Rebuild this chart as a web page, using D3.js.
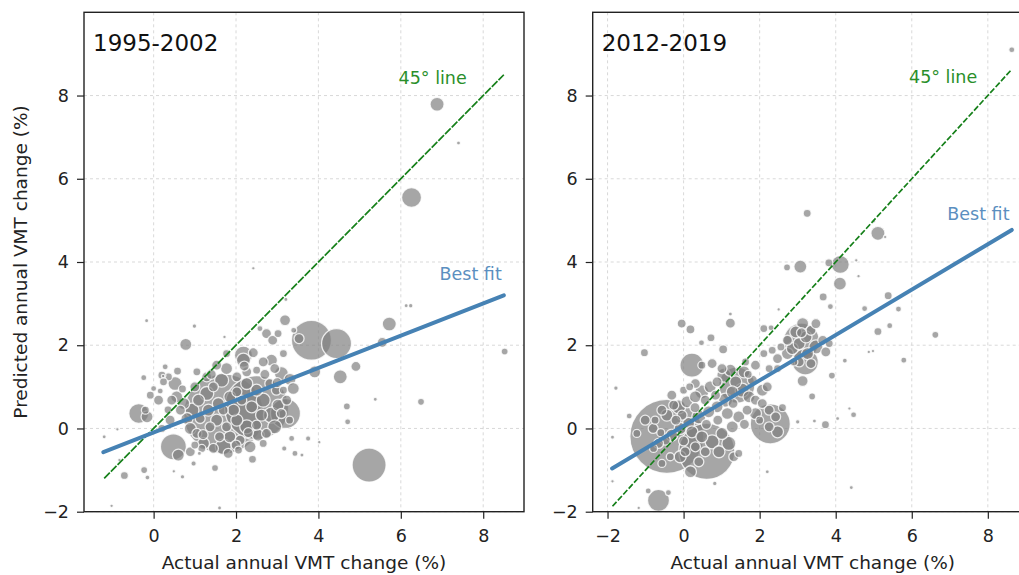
<!DOCTYPE html>
<html>
<head>
<script src="https://d3js.org/d3.v7.min.js"></script>
<style>
  body { margin: 0; background: #fff; }
  text { font-family: "DejaVu Sans", sans-serif; }
  .grid line { stroke: #cfcfcf; stroke-dasharray: 3,3; stroke-width: 0.8; }
  .axis path { display: none; }
  .axis line { stroke: #222; stroke-width: 1.2; }
  .axis text { font-size: 17.5px; fill: #222; font-family: "DejaVu Sans", sans-serif; }
  .dot { fill: #808080; fill-opacity: 0.7; stroke: #fff; stroke-opacity: 0.8; stroke-width: 1.3; }
</style>
</head>
<body>
<script>
var width = 1019, height = 575;

var titles = ["1995-2002", "2012-2019"];
var xTicksLeft = [0, 2, 4, 6, 8];
var xTicksRight = [-2, 0, 2, 4, 6, 8];
var yTicks = [-2, 0, 2, 4, 6, 8];

// [actual change, predicted change, weight]
var leftPoints = [
  [1.7, 0.35, 1600], [2.5, 0.5, 1024], [3.83, 2.12, 400], [4.44, 2.04, 225], [5.23, -0.88, 289],
  [3.2, 0.36, 225], [0.48, -0.44, 169], [-0.36, 0.36, 100], [2.18, 1.76, 81], [6.26, 5.55, 100],
  [6.88, 7.79, 49], [5.72, 2.51, 49], [0.78, 2.02, 36], [3.19, 2.6, 30], [4.53, 1.24, 49],
  [4.91, 1.49, 25], [3.91, 1.36, 36], [3.53, 2.16, 25], [5.55, 2.07, 25],
  [-0.71, -1.13, 16], [-0.23, -1.0, 12], [-0.15, -1.18, 6], [1.49, -0.95, 12], [2.4, -0.74, 16],
  [4.69, 0.53, 12], [4.71, 0.16, 9], [5.38, 0.7, 4], [3.35, -0.24, 9], [3.17, -0.48, 7],
  [3.43, -0.6, 9], [3.6, -0.64, 4], [3.75, -0.24, 7], [4.02, -0.33, 3], [0.99, 2.46, 5],
  [-0.17, 2.59, 4], [1.72, 2.2, 3], [-0.24, 1.22, 9], [-1.2, -0.2, 4], [-0.88, -0.02, 3],
  [-1.02, -1.86, 3], [1.6, -1.91, 4], [0.7, -1.16, 5], [0.49, -1.03, 3], [0.97, -0.84, 7],
  [1.11, -0.6, 4], [-0.83, -0.76, 3], [6.13, 2.95, 4], [6.24, 2.95, 5], [7.4, 6.86, 4],
  [8.52, 1.85, 12], [6.49, 0.64, 12], [2.42, 3.85, 3], [3.21, 3.1, 4], [0.23, 1.26, 3],
  [2.18, 1.64, 49], [2.42, 1.82, 25], [2.66, 1.60, 25], [2.86, 1.64, 36], [2.94, 1.44, 25],
  [3.10, 1.32, 49], [3.31, 1.18, 36], [3.39, 0.96, 36], [3.23, 0.68, 25], [3.02, 0.56, 36],
  [2.86, 0.32, 64], [3.10, 0.36, 25], [2.66, 0.68, 49], [2.50, 0.92, 36], [2.26, 1.08, 36],
  [2.02, 1.24, 25], [1.77, 1.44, 36], [1.65, 1.16, 49], [1.45, 1.00, 25], [1.29, 0.84, 49],
  [1.09, 0.68, 36], [0.93, 0.44, 49], [0.81, 0.24, 36], [0.89, 0.00, 36], [1.05, -0.12, 25],
  [1.21, -0.36, 36], [1.45, -0.48, 25], [1.69, -0.44, 64], [1.85, -0.20, 36], [2.10, -0.28, 25],
  [2.34, -0.44, 36], [2.54, -0.16, 36], [2.74, -0.12, 25], [2.94, 0.04, 49], [2.26, 0.04, 49],
  [2.02, 0.20, 36], [1.77, 0.04, 25], [1.53, 0.20, 36], [1.33, 0.44, 36], [1.57, 0.60, 36],
  [1.85, 0.76, 36], [2.14, 0.68, 25], [2.38, 0.52, 36], [2.62, 0.32, 36], [2.50, 0.08, 25],
  [1.94, 0.44, 36], [1.69, 0.44, 25], [1.37, 0.04, 25], [1.13, 0.24, 25], [0.73, 0.60, 36],
  [0.56, 0.76, 36], [0.52, 1.08, 49], [0.36, 1.24, 16], [0.20, 1.28, 16], [0.24, 1.12, 16],
  [0.58, 1.38, 16], [0.44, 0.68, 25], [0.65, 0.44, 25], [0.60, -0.64, 36], [0.89, -0.56, 25],
  [1.17, -0.48, 16], [1.81, -0.60, 25], [2.06, -0.52, 16], [2.66, -0.36, 16], [-0.16, 0.28, 36],
  [-0.20, 0.44, 16], [-0.08, 0.80, 16], [0.12, 0.68, 25], [0.00, 0.96, 9], [0.16, 0.90, 9],
  [0.28, 1.48, 9], [1.77, 1.80, 16], [1.53, 1.52, 25], [1.29, 1.24, 25], [1.05, 1.36, 16],
  [2.74, 2.28, 25], [3.02, 2.28, 16], [2.58, 2.40, 9], [2.89, 2.12, 25], [3.15, 1.80, 16],
  [3.40, 2.36, 9], [2.50, 1.40, 16], [2.26, 1.36, 25], [2.02, 0.88, 25], [2.82, 1.08, 25],
  [2.98, 0.92, 25], [3.15, 0.92, 16],
  [0.4, 0.2, 25], [0.2, 0.0, 16], [1.0, 1.0, 25], [1.4, 1.3, 25], [2.3, -0.1, 25],
  [2.7, 1.3, 25], [3.0, 1.1, 25], [1.2, -0.15, 25], [1.6, -0.2, 25], [2.0, -0.4, 25],
  [0.7, 0.95, 16], [3.3, 0.2, 16], [2.2, 1.5, 25], [1.0, -0.4, 16], [0.35, 0.45, 16]
];

var rightPoints = [
  [-0.44, -0.19, 1369], [0.61, -0.55, 784], [1.4, 1.04, 324], [0.22, 1.52, 144], [2.28, 0.11, 400],
  [3.1, 2.1, 324], [3.2, 1.6, 169], [-0.66, -1.73, 121], [-0.93, -1.5, 9], [-0.4, -1.54, 9],
  [3.73, 0.09, 16], [3.13, 1.14, 30], [-1.03, 1.82, 16], [-0.05, 2.52, 20], [0.18, 2.38, 20],
  [1.23, 2.53, 25], [1.23, 2.75, 4], [1.04, 1.9, 20], [0.72, 2.18, 16], [0.47, 2.06, 9],
  [2.11, 2.4, 16], [2.3, 2.42, 9], [5.11, 2.33, 16], [5.42, 2.47, 9], [5.65, 2.87, 9],
  [5.79, 1.64, 9], [4.24, 1.63, 6], [3.9, 1.27, 12], [3.38, 0.77, 12], [3.0, 0.16, 5],
  [3.44, 0.18, 4], [4.05, 0.24, 4], [4.47, 0.33, 9], [4.36, 0.48, 3], [4.41, -1.42, 4],
  [2.2, -1.04, 4], [0.82, -1.32, 5], [-1.87, -1.27, 3], [-1.78, 0.97, 5], [-1.43, 0.3, 9],
  [-1.87, -0.21, 4], [-1.18, -1.91, 3], [4.87, 1.84, 3], [4.98, 1.86, 3], [3.25, 5.17, 16],
  [5.11, 4.69, 49], [5.3, 4.6, 3], [5.0, 4.98, 3], [4.12, 3.94, 81], [3.07, 3.89, 42],
  [2.72, 3.87, 12], [3.82, 3.98, 16], [4.11, 3.48, 42], [3.67, 3.16, 16], [3.86, 2.93, 9],
  [5.38, 3.19, 16], [4.76, 2.88, 9], [4.6, 3.66, 3], [4.54, 4.04, 3], [6.62, 2.25, 12],
  [8.63, 9.1, 9], [2.5, 2.86, 3],
  [-0.13, 0.52, 49], [0.09, 0.64, 36], [0.31, 0.76, 36], [0.48, 0.88, 49], [0.70, 1.00, 36],
  [0.88, 1.12, 25], [1.06, 1.28, 49], [1.23, 1.40, 36], [1.37, 1.12, 36], [1.54, 0.92, 49],
  [1.72, 0.76, 36], [1.89, 0.68, 25], [2.07, 0.92, 36], [2.20, 1.00, 25], [1.81, 1.16, 25],
  [1.59, 1.36, 36], [1.28, 0.88, 36], [1.10, 0.68, 49], [0.88, 0.52, 36], [0.66, 0.40, 36],
  [0.40, 0.28, 49], [0.13, 0.12, 36], [-0.09, 0.00, 36], [-0.31, -0.16, 36], [-0.48, -0.28, 25],
  [-0.66, -0.36, 25], [-0.79, -0.48, 16], [-0.44, 0.32, 36], [-0.26, 0.56, 25], [-0.04, 0.32, 25],
  [0.22, -0.08, 36], [0.48, -0.20, 36], [0.75, -0.32, 49], [1.01, -0.12, 36], [1.28, 0.04, 36],
  [1.45, 0.28, 36], [1.67, 0.44, 25], [1.89, 0.36, 36], [2.07, 0.60, 25], [2.25, 0.44, 25],
  [2.42, 0.28, 25], [2.47, -0.08, 36], [2.25, 0.04, 25], [1.19, -0.36, 49], [0.93, -0.56, 36],
  [0.57, -0.56, 25], [0.31, -0.44, 25], [0.04, -0.56, 25], [-0.09, -0.68, 36], [0.18, -1.04, 36],
  [1.32, -0.68, 25], [1.45, -0.60, 16], [-0.57, -0.84, 16], [-0.35, -0.68, 16], [1.15, 0.36, 36],
  [0.57, 0.68, 25], [0.84, 0.80, 25], [0.31, 1.08, 25], [1.63, 1.60, 16], [1.89, 1.52, 25],
  [2.11, 1.80, 16], [2.33, 1.88, 16], [2.47, 1.68, 25], [2.73, 1.80, 36], [2.86, 1.92, 36],
  [3.04, 2.04, 36], [3.22, 2.20, 36], [3.35, 2.36, 25], [3.48, 2.52, 25], [3.13, 2.52, 36],
  [2.95, 2.32, 36], [3.26, 1.80, 36], [3.48, 1.96, 49], [3.66, 2.12, 25], [3.74, 1.84, 25],
  [3.83, 2.04, 16], [2.73, 2.12, 25], [2.56, 1.96, 16], [3.04, 1.60, 25], [3.35, 1.56, 25],
  [2.47, 1.44, 16], [2.25, 1.44, 16], [-1.01, 0.20, 25], [-0.75, 0.20, 16], [-1.23, -0.12, 16],
  [-0.57, 0.44, 25], [-0.31, 0.80, 25], [0.00, 0.92, 16], [0.16, 1.00, 16], [0.75, 1.56, 25],
  [1.01, 1.44, 25], [0.48, 1.52, 16],
  [-0.8, 0.0, 25], [-0.6, -0.1, 16], [-0.2, 0.2, 25], [0.3, 0.5, 25], [0.6, 0.1, 25],
  [0.9, 0.2, 25], [1.3, 0.6, 25], [1.6, 0.1, 25], [0.4, -0.8, 25], [0.0, -0.3, 25],
  [1.7, 1.3, 16], [2.0, 0.2, 16], [2.6, 0.5, 16], [3.1, 2.3, 25], [2.9, 1.6, 16]
];

// line end points [x0, x1], [y0, y1]
var leftDiagX = [-1.2, 8.5];
var leftFitX = [-1.22, 8.5], leftFitY = [-0.57, 3.2];
var rightDiagX = [-1.87, 8.63];
var rightFitX = [-1.88, 8.63], rightFitY = [-0.96, 4.77];

var panels = [
  { title: titles[0], pts: leftPoints, xt: xTicksLeft, xd: [-1.69, 8.99], left: 84, dash: "8,1.5",
    diag: leftDiagX, fx: leftFitX, fy: leftFitY, lab45: [7.6, 8.27], labFit: [8.45, 3.57] },
  { title: titles[1], pts: rightPoints, xt: xTicksRight, xd: [-2.39, 9.18], left: 592.7, dash: "6,2",
    diag: rightDiagX, fx: rightFitX, fy: rightFitY, lab45: [7.72, 8.31], labFit: [8.57, 5.0] }
];

var plotTop = 12.3, plotBottom = 511.7, pw = 440;
var y = d3.scaleLinear().domain([-2, 10]).range([plotBottom, plotTop]);
var rScale = d3.scaleSqrt().domain([0, 1600]).range([0, 40]);

var svg = d3.select("body").append("svg").attr("width", width).attr("height", height);

panels.forEach(function(p, i) {
  var x = d3.scaleLinear().domain(p.xd).range([p.left, p.left + pw]);

  svg.append("clipPath").attr("id", "clip" + i)
    .append("rect").attr("x", p.left).attr("y", plotTop).attr("width", pw).attr("height", plotBottom - plotTop);

  var grid = svg.append("g").attr("class", "grid");
  grid.selectAll(".gx").data(p.xt).enter().append("line")
    .attr("x1", d => x(d)).attr("x2", d => x(d)).attr("y1", plotTop).attr("y2", plotBottom);
  grid.selectAll(".gy").data(yTicks).enter().append("line")
    .attr("x1", p.left).attr("x2", p.left + pw).attr("y1", d => y(d)).attr("y2", d => y(d));

  var plot = svg.append("g").attr("clip-path", "url(#clip" + i + ")");

  var pts = p.pts.slice().sort((a, b) => b[2] - a[2]);
  plot.selectAll("circle").data(pts).enter().append("circle")
    .attr("class", "dot")
    .attr("cx", d => x(d[0])).attr("cy", d => y(d[1])).attr("r", d => rScale(d[2]));

  var line = d3.line().x(d => x(d[0])).y(d => y(d[1]));
  plot.append("path")
    .datum([[p.diag[0], p.diag[0]], [p.diag[1], p.diag[1]]])
    .attr("d", line).attr("fill", "none").attr("stroke", "#16801a")
    .attr("stroke-width", 1.7).attr("stroke-dasharray", p.dash);
  plot.append("path")
    .datum([[p.fx[0], p.fy[0]], [p.fx[1], p.fy[1]]])
    .attr("d", line).attr("fill", "none").attr("stroke", "#4682b4")
    .attr("stroke-width", 4).attr("stroke-linecap", "round");

  svg.append("text").attr("x", x(p.lab45[0])).attr("y", y(p.lab45[1]))
    .attr("text-anchor", "end").attr("font-size", 17.5).attr("fill", "#2a8f2a").text("45° line");
  svg.append("text").attr("x", x(p.labFit[0])).attr("y", y(p.labFit[1]))
    .attr("text-anchor", "end").attr("font-size", 17.5).attr("fill", "#5b8fc0").text("Best fit");

  svg.append("g").attr("class", "axis").attr("transform", "translate(0," + plotBottom + ")")
    .call(d3.axisBottom(x).tickValues(p.xt).tickSize(7).tickPadding(11).tickFormat(d3.format("d")));
  svg.append("g").attr("class", "axis").attr("transform", "translate(" + p.left + ",0)")
    .call(d3.axisLeft(y).tickValues(yTicks).tickSize(7).tickPadding(8).tickFormat(d3.format("d")));

  svg.append("rect").attr("x", p.left).attr("y", plotTop).attr("width", pw).attr("height", plotBottom - plotTop)
    .attr("fill", "none").attr("stroke", "#222").attr("stroke-width", 1.4);

  svg.append("text").attr("x", p.left + 9).attr("y", 50.7)
    .attr("font-size", 23).attr("fill", "#111").text(p.title);

  svg.append("text").attr("x", p.left + pw / 2).attr("y", 569)
    .attr("text-anchor", "middle").attr("font-size", 18.5).attr("fill", "#222")
    .text("Actual annual VMT change (%)");
});

svg.append("text")
  .attr("transform", "translate(26.5," + ((plotTop + plotBottom) / 2) + ") rotate(-90)")
  .attr("text-anchor", "middle").attr("font-size", 18.5).attr("fill", "#222")
  .text("Predicted annual VMT change (%)");
</script>
</body>
</html>
